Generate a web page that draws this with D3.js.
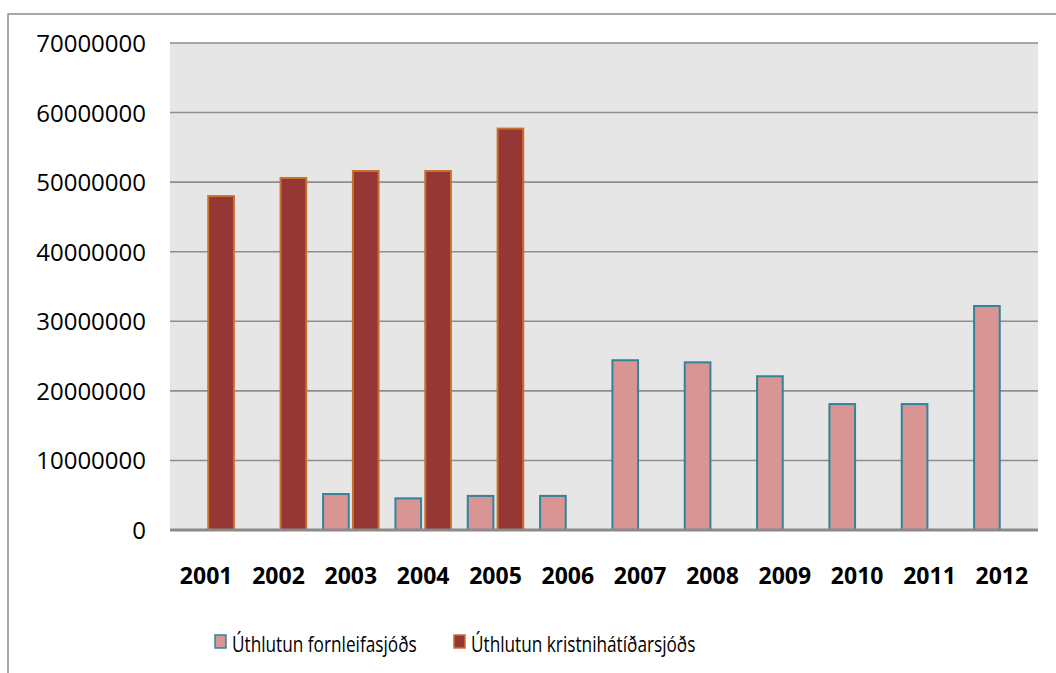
<!DOCTYPE html>
<html>
<head>
<meta charset="utf-8">
<script src="https://cdn.jsdelivr.net/npm/d3@7"></script>
<style>
  body { margin: 0; background: #fff; }
  text { font-family: "Open Sans", sans-serif; fill: #000; }
</style>
</head>
<body>
<div id="chart"></div>
<script>
// data
var years = ['2001', '2002', '2003', '2004', '2005', '2006', '2007', '2008', '2009', '2010', '2011', '2012'];
var fornleifa = [0, 0, 5170000, 4550000, 4900000, 4900000, 24400000, 24100000, 22100000, 18100000, 18100000, 32200000];
var kristni = [48000000, 50600000, 51600000, 51600000, 57700000, 0, 0, 0, 0, 0, 0, 0];
var seriesNames = ['Úthlutun fornleifasjóðs', 'Úthlutun kristnihátíðarsjóðs'];
var yTicks = [0, 10000000, 20000000, 30000000, 40000000, 50000000, 60000000, 70000000];

var width = 1056, height = 673;
var plotL = 170, plotR = 1038, plotT = 43, plotB = 530;

var fills = ['#d99594', '#953735'];
var strokes = ['#31849b', '#c8722e'];

var svg = d3.select('#chart').append('svg')
  .attr('width', width)
  .attr('height', height)
  .style('display', 'block');

// outer frame (runs off the right and bottom)
svg.append('rect')
  .attr('x', 8).attr('y', 14)
  .attr('width', width + 10).attr('height', height + 10)
  .attr('fill', 'none')
  .attr('stroke', '#8c8c8c')
  .attr('stroke-width', 1.5);

var x = d3.scaleBand().domain(years).range([plotL, plotR]).padding(0);
var y = d3.scaleLinear().domain([0, 70000000]).range([plotB, plotT]);
var x1 = d3.scaleBand().domain([0, 1]).range([-27.75, 27.75]).paddingInner(0.14);

svg.append('rect')
  .attr('x', plotL).attr('y', plotT)
  .attr('width', plotR - plotL).attr('height', plotB - plotT)
  .attr('fill', '#e6e6e6');

// gridlines
svg.append('g').selectAll('line')
  .data(yTicks.slice(1))
  .join('line')
  .attr('x1', plotL).attr('x2', plotR)
  .attr('y1', function(d) { return y(d); })
  .attr('y2', function(d) { return y(d); })
  .attr('stroke', '#8e8e8e')
  .attr('stroke-width', 1.6);

// y labels
svg.append('g').selectAll('text')
  .data(yTicks)
  .join('text')
  .attr('x', 146)
  .attr('y', function(d) { return y(d) + 9; })
  .attr('text-anchor', 'end')
  .attr('font-size', 24)
  .text(function(d) { return d; });

var rows = years.map(function(yr, i) { return { year: yr, vals: [fornleifa[i], kristni[i]] }; });

var groups = svg.append('g').selectAll('g')
  .data(rows)
  .join('g')
  .attr('transform', function(d) { return 'translate(' + (x(d.year) + x.bandwidth() / 2) + ',0)'; });

groups.selectAll('rect')
  .data(function(d) { return d.vals.map(function(v, k) { return { k: k, v: v }; }).filter(function(e) { return e.v > 0; }); })
  .join('rect')
  .attr('x', function(d) { return x1(d.k); })
  .attr('width', x1.bandwidth())
  .attr('y', function(d) { return y(d.v); })
  .attr('height', function(d) { return y(0) - y(d.v); })
  .attr('fill', function(d) { return fills[d.k]; })
  .attr('stroke', function(d) { return strokes[d.k]; })
  .attr('stroke-width', 2);

// baseline
svg.append('line')
  .attr('x1', plotL).attr('x2', plotR)
  .attr('y1', y(0)).attr('y2', y(0))
  .attr('stroke', '#8a8a8a')
  .attr('stroke-width', 3);

// year labels
svg.append('g').selectAll('text')
  .data(years)
  .join('text')
  .attr('x', function(d) { return x(d) + x.bandwidth() / 2; })
  .attr('y', 584)
  .attr('text-anchor', 'middle')
  .attr('font-size', 23)
  .attr('font-weight', 'bold')
  .text(function(d) { return d; });

// legend
var legendX = [215, 454];
var legend = svg.append('g').selectAll('g')
  .data(seriesNames)
  .join('g')
  .attr('transform', function(d, i) { return 'translate(' + legendX[i] + ',635)'; });

legend.append('rect')
  .attr('width', 11).attr('height', 13)
  .attr('fill', function(d, i) { return fills[i]; })
  .attr('stroke', function(d, i) { return strokes[i]; })
  .attr('stroke-width', 1.5);

legend.append('text')
  .attr('transform', 'translate(17,17) scale(0.82,1)')
  .attr('font-size', 21)
  .text(function(d) { return d; });
</script>
</body>
</html>
